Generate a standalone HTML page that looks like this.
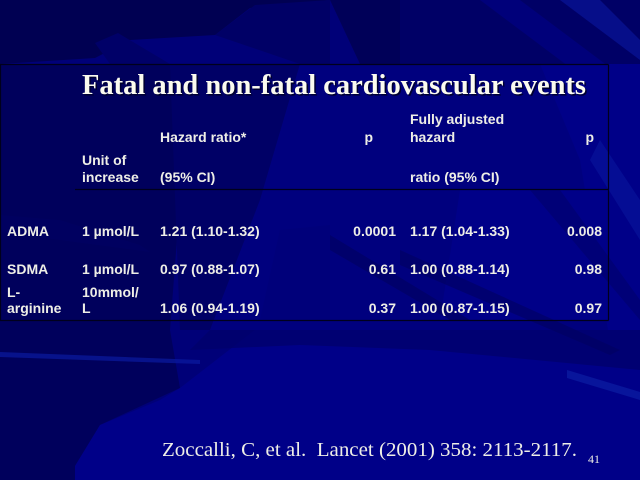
<!DOCTYPE html>
<html><head><meta charset="utf-8"><style>
html,body{margin:0;padding:0;background:#00007c;}
svg{display:block;}
</style></head><body>
<svg width="640" height="480" viewBox="0 0 640 480" xmlns="http://www.w3.org/2000/svg">
<!-- background -->
<rect x="0" y="0" width="640" height="480" fill="#000078"/>
<!-- top-left dark -->
<polygon points="0,0 330,0 250,8 215,35 130,40 95,58 0,64" fill="#000052"/>
<polygon points="95,43 118,33 170,64 110,64" fill="#000068"/>
<polygon points="215,35 255,5 330,0 330,64 300,64" fill="#000066"/>
<polygon points="330,0 400,0 400,64 360,64" fill="#000058"/>
<polygon points="400,0 640,0 640,64 400,64" fill="#000066"/>
<polygon points="480,0 520,0 640,90 640,120" fill="#00007a"/>
<polygon points="560,0 600,0 640,40 640,60" fill="#0a18a0" opacity="0.6"/>
<!-- left dark column -->
<polygon points="0,64 170,64 180,200 170,330 180,388 100,425 75,466 75,480 0,480" fill="#00005c"/>
<polygon points="170,64 300,64 260,200 210,330 180,330" fill="#000066"/>
<!-- main brighter regions -->
<polygon points="260,320 640,320 640,480 75,480 75,466 100,425 160,400 180,388 260,326" fill="#000088"/>
<polygon points="210,330 280,320 440,320 640,330 640,370 430,350 300,345 190,350" fill="#00006a" opacity="0.7"/>
<polygon points="0,352 200,360 200,364 0,357" fill="#0a1aa0" opacity="0.7"/>
<polygon points="567,370 640,392 640,400 567,378" fill="#0a1aa0" opacity="0.8"/>
<!-- table-area right side brighter -->
<polygon points="300,64 640,64 640,330 210,330 260,200" fill="#00007e"/>
<polygon points="460,190 608,190 608,320 440,320" fill="#000088"/>
<polygon points="540,64 640,64 640,330 608,330 580,160" fill="#000088"/>
<polygon points="280,230 330,225 330,320 260,320" fill="#00007a"/>
<!-- diagonal dark streaks -->
<polygon points="0,215 60,220 140,245 150,252 0,232" fill="#000062" opacity="0.8"/>
<polygon points="330,235 470,320 450,320 330,250" fill="#000066" opacity="0.8"/>
<polygon points="400,250 620,350 610,355 400,265" fill="#000060" opacity="0.6"/>
<polygon points="0,96 460,96 460,98 0,98" fill="#000030" opacity="0.0"/>
<polygon points="600,140 640,200 640,240 590,160" fill="#0a1aa0" opacity="0.5"/>
<polygon points="530,190 560,190 640,300 640,320" fill="#000066" opacity="0.5"/>

<!-- table borders -->
<g stroke="#00001c" stroke-width="1.2" fill="none">
<line x1="0" y1="64.5" x2="608.5" y2="64.5"/>
<line x1="608.5" y1="64.5" x2="608.5" y2="320.5"/>
<line x1="0" y1="320.5" x2="608.5" y2="320.5"/>
<line x1="0.5" y1="64.5" x2="0.5" y2="320.5"/>
<line x1="75" y1="189.5" x2="608.5" y2="189.5"/>
</g>

<!-- title -->
<text x="83.5" y="95.5" font-family="Liberation Serif, serif" font-weight="bold" font-size="28.4" fill="#000030" textLength="504" lengthAdjust="spacingAndGlyphs">Fatal and non-fatal cardiovascular events</text>
<text x="82" y="94" font-family="Liberation Serif, serif" font-weight="bold" font-size="28.4" fill="#fbfbef" textLength="504" lengthAdjust="spacingAndGlyphs">Fatal and non-fatal cardiovascular events</text>

<g font-family="Liberation Sans, Arial, sans-serif" font-weight="bold" font-size="14" fill="#eeeee6">
<text x="160" y="142">Hazard ratio*</text>
<text x="373" y="142" text-anchor="end">p</text>
<text x="410" y="124">Fully adjusted</text>
<text x="410" y="142">hazard</text>
<text x="594" y="142" text-anchor="end">p</text>
<text x="82" y="165">Unit of</text>
<text x="82" y="182">increase</text>
<text x="160" y="182">(95% CI)</text>
<text x="410" y="182">ratio (95% CI)</text>

<text x="7" y="236">ADMA</text>
<text x="82" y="236">1 µmol/L</text>
<text x="160" y="236">1.21 (1.10-1.32)</text>
<text x="396" y="236" text-anchor="end">0.0001</text>
<text x="410" y="236">1.17 (1.04-1.33)</text>
<text x="602" y="236" text-anchor="end">0.008</text>

<text x="7" y="274">SDMA</text>
<text x="82" y="274">1 µmol/L</text>
<text x="160" y="274">0.97 (0.88-1.07)</text>
<text x="396" y="274" text-anchor="end">0.61</text>
<text x="410" y="274">1.00 (0.88-1.14)</text>
<text x="602" y="274" text-anchor="end">0.98</text>

<text x="7" y="297">L-</text>
<text x="82" y="297">10mmol/</text>
<text x="7" y="313">arginine</text>
<text x="82" y="313">L</text>
<text x="160" y="313">1.06 (0.94-1.19)</text>
<text x="396" y="313" text-anchor="end">0.37</text>
<text x="410" y="313">1.00 (0.87-1.15)</text>
<text x="602" y="313" text-anchor="end">0.97</text>
</g>

<!-- citation -->
<text x="162" y="456" font-family="Liberation Serif, serif" font-size="20" fill="#eeeee6" textLength="415" lengthAdjust="spacingAndGlyphs" xml:space="preserve">Zoccalli, C, et al.  Lancet (2001) 358: 2113-2117.</text>
<text x="588" y="463" font-family="Liberation Serif, serif" font-size="12" fill="#eeeee6">41</text>
</svg>
</body></html>
